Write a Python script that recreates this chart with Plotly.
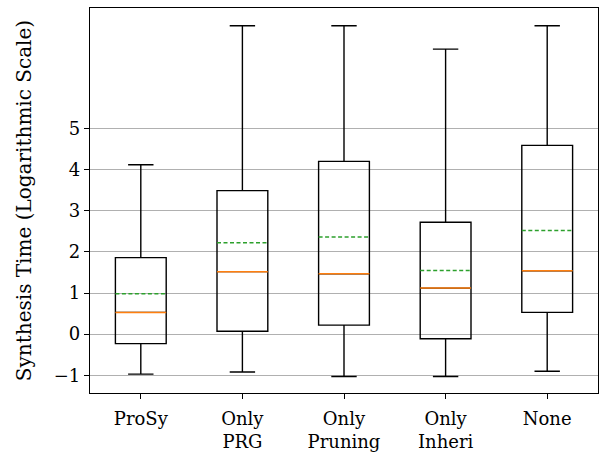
import plotly.graph_objects as go

categories = ["ProSy", "Only<br>PRG", "Only<br>Pruning", "Only<br>Inheri", "None"]
lower = [-0.97, -0.92, -1.03, -1.03, -0.90]
q1 = [-0.23, 0.07, 0.22, -0.11, 0.53]
median = [0.53, 1.52, 1.47, 1.12, 1.54]
mean = [0.98, 2.22, 2.36, 1.55, 2.52]
q3 = [1.86, 3.49, 4.20, 2.72, 4.59]
upper = [4.12, 7.50, 7.50, 6.93, 7.50]
ytick_vals = [-1, 0, 1, 2, 3, 4, 5]
ytick_text = ["\u22121", "0", "1", "2", "3", "4", "5"]

pos = list(range(len(categories)))
half = 0.25

fig = go.Figure()
fig.add_trace(go.Box(
    x=pos, q1=q1, median=median, q3=q3, lowerfence=lower, upperfence=upper,
    width=0.5, whiskerwidth=0.5, boxpoints=False,
    line=dict(color="black", width=1.4), fillcolor="rgba(0,0,0,0)",
    showlegend=False, hoverinfo="skip",
))

mx, my, ax, ay = [], [], [], []
for p, m, a in zip(pos, median, mean):
    mx += [p - half, p + half, None]
    my += [m, m, None]
    ax += [p - half, p + half, None]
    ay += [a, a, None]
fig.add_trace(go.Scatter(x=mx, y=my, mode="lines", line=dict(color="#ff7f0e", width=1.5),
                         showlegend=False, hoverinfo="skip"))
fig.add_trace(go.Scatter(x=ax, y=ay, mode="lines",
                         line=dict(color="#2ca02c", width=1.5, dash="4px,2.5px"),
                         showlegend=False, hoverinfo="skip"))

tick_font = dict(family="DejaVu Serif", size=18, color="black")
title_font = dict(family="DejaVu Serif", size=20, color="black")
fig.update_layout(
    width=600, height=454,
    margin=dict(l=89.5, r=2, t=8, b=60.5, autoexpand=False),
    paper_bgcolor="white", plot_bgcolor="white",
    font=tick_font,
    xaxis=dict(range=[-0.5, 4.5], tickvals=pos, ticktext=categories, automargin=False,
               showgrid=False, zeroline=False, showline=True, mirror=True,
               linecolor="black", linewidth=1.2, ticks="outside", ticklen=5,
               tickcolor="black", tickwidth=1.2, tickfont=tick_font,
               ticklabelstandoff=4),
    yaxis=dict(range=[-1.43, 7.93], tickvals=ytick_vals, ticktext=ytick_text, automargin=False,
               showgrid=True, gridcolor="#b0b0b0", gridwidth=1, zeroline=False,
               showline=True, mirror=True, linecolor="black", linewidth=1.2,
               ticks="outside", ticklen=5, tickcolor="black", tickwidth=1.2,
               tickfont=tick_font,
               title=dict(text="Synthesis Time (Logarithmic Scale)", font=title_font, standoff=16)),
)
fig.write_html("out.html", config={"displayModeBar": False},
               post_script="document.body.style.margin='0';")
